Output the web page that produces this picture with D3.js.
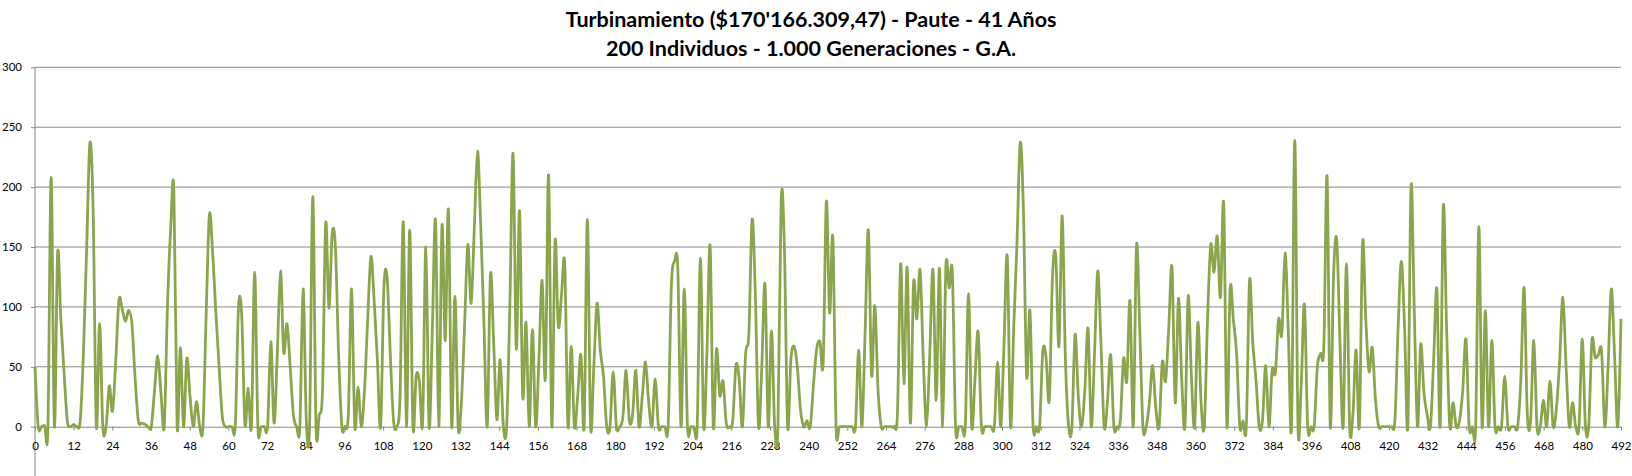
<!DOCTYPE html>
<html>
<head>
<meta charset="utf-8">
<script src="https://cdn.jsdelivr.net/npm/d3@7"></script>
<style>
  body { margin: 0; background: #fff; }
  svg { display: block; }
</style>
</head>
<body>
<div id="main-graph"></div>
<script>
// Title lines
const titleLines = [
    "Turbinamiento ($170'166.309,47) - Paute - 41 Años",
    "200 Individuos - 1.000 Generaciones - G.A."
];

// Monthly turbined flow, one row per year (41 years = 492 months)
const turbinamiento = [
    50,0,0,1,0,208,0,145,90,45,5,0,
    2,0,5,62,150,237,180,0,86,0,0,34,
    13,55,106,98,88,97,86,40,5,3,2,0,
    0,30,59,28,0,100,165,197,0,66,0,57,
    25,0,21,0,0,95,177,145,95,50,8,0,
    0,0,0,100,93,2,32,0,129,0,0,0,
    0,71,3,60,130,62,86,50,10,0,0,115,
    5,0,192,0,10,30,170,99,161,150,60,0,
    0,10,115,0,33,0,30,90,142,105,55,0,
    115,125,60,5,0,25,171,0,164,0,42,38,
    3,150,0,80,172,0,168,72,181,0,109,0,
    20,85,152,103,165,230,167,85,0,127,70,6,
    56,0,0,100,228,65,180,25,87,0,81,0,
    56,122,40,210,0,155,84,110,136,0,67,0,
    25,60,0,173,0,50,103,64,42,0,0,46,
    0,0,8,47,5,10,47,0,25,54,20,0,
    40,0,0,0,0,117,138,132,0,115,0,0,
    0,0,141,0,60,151,0,65,26,38,3,0,
    5,51,40,0,61,78,173,111,0,50,119,0,
    80,0,0,190,150,0,56,67,50,14,0,5,
    0,35,65,71,53,188,95,158,0,0,0,0,
    0,0,0,64,0,80,164,43,101,30,0,0,
    0,0,0,11,136,36,133,3,120,90,131,56,
    1,60,131,22,132,0,134,116,129,0,0,0,
    0,111,0,40,79,0,0,0,0,0,54,0,
    70,142,0,83,153,237,181,42,97,0,0,0,
    63,58,22,125,143,67,176,56,0,0,77,25,
    0,30,82,0,60,130,70,0,20,60,0,0,
    5,57,38,105,0,151,83,0,0,20,51,15,
    0,54,38,83,133,20,107,40,0,109,42,0,
    87,20,0,90,152,129,159,108,186,0,115,89,
    61,0,5,0,122,70,39,0,5,51,0,47,
    45,90,77,145,80,0,239,0,35,102,0,0,
    0,50,61,67,209,0,125,156,70,0,136,0,
    10,64,0,154,89,46,66,22,0,0,0,0,
    0,5,83,138,83,0,201,97,0,69,28,10,
    0,56,115,0,184,83,0,20,0,5,30,73,
    0,0,0,167,0,97,0,72,0,0,0,42,
    0,0,0,0,40,116,10,5,72,0,0,22,
    0,38,0,15,55,108,50,0,20,0,0,73,
    0,0,72,58,60,63,0,50,115,60,0,90
];

// Axis tick labels
const xTickLabels = [0,12,24,36,48,60,72,84,96,108,120,132,144,156,168,180,192,204,216,228,240,
    252,264,276,288,300,312,324,336,348,360,372,384,396,408,420,432,444,456,468,480,492];
const yTickLabels = [0,50,100,150,200,250,300];

// Dimensions of the page and plot area
const width = 1632, height = 476;
const plot = {left: 35, right: 1621, top: 67.3, bottom: 426.7};

const svg = d3.select("#main-graph")
    .append("svg")
        .attr("width", width)
        .attr("height", height)
        .style("background", "#fff");

// Scales
const x = d3.scaleLinear()
    .domain([0, turbinamiento.length - 1])
    .range([plot.left, plot.right]);
const xAxisScale = d3.scaleLinear()
    .domain([0, d3.max(xTickLabels)])
    .range([plot.left, plot.right]);
const y = d3.scaleLinear()
    .domain([0, d3.max(yTickLabels)])
    .range([plot.bottom, plot.top]);

// Horizontal gridlines
svg.append("g")
    .selectAll("line")
    .data(yTickLabels.filter(d => d > 0))
    .enter()
    .append("line")
    .attr("x1", plot.left)
    .attr("x2", plot.right)
    .attr("y1", d => y(d))
    .attr("y2", d => y(d))
    .attr("stroke", "#868686")
    .attr("stroke-width", 1);

// Y axis with small outer ticks
svg.append("g")
    .attr("transform", "translate(" + plot.left + ",0)")
    .call(d3.axisLeft(y).tickValues(yTickLabels).tickSizeInner(4).tickSizeOuter(0).tickPadding(9))
    .call(g => g.select(".domain").remove())
    .call(g => g.selectAll(".tick line").attr("stroke", "#868686"))
    .call(g => g.selectAll("text")
        .attr("fill", "#000")
        .style("font-family", "Lato, 'Liberation Sans', sans-serif")
        .style("font-size", "11.5px"));

// Vertical axis line runs down to the bottom edge
svg.append("line")
    .attr("x1", plot.left).attr("x2", plot.left)
    .attr("y1", plot.top).attr("y2", height)
    .attr("stroke", "#868686");

// X axis
svg.append("g")
    .attr("transform", "translate(0," + plot.bottom + ")")
    .call(d3.axisBottom(xAxisScale).tickValues(xTickLabels).tickSizeInner(4).tickSizeOuter(0).tickPadding(11))
    .call(g => g.select(".domain").attr("stroke", "#868686"))
    .call(g => g.selectAll(".tick line").attr("stroke", "#868686"))
    .call(g => g.selectAll("text")
        .attr("fill", "#000")
        .style("font-family", "Lato, 'Liberation Sans', sans-serif")
        .style("font-size", "11.5px"));

// Smoothed series line
const line = d3.line()
    .x((d, i) => x(i))
    .y(d => y(d))
    .curve(d3.curveCardinal.tension(0));

svg.append("path")
    .datum(turbinamiento)
    .attr("d", line)
    .attr("fill", "none")
    .attr("stroke", "#8AA64C")
    .attr("stroke-width", 2.8)
    .attr("stroke-linejoin", "round");

// Title
svg.append("g")
    .selectAll("text")
    .data(titleLines)
    .enter()
    .append("text")
    .attr("x", 811)
    .attr("y", (d, i) => 27 + i * 29)
    .attr("text-anchor", "middle")
    .style("font-family", "Lato, 'Liberation Sans', sans-serif")
    .style("font-weight", "bold")
    .style("font-size", "21.5px")
    .attr("fill", "#000")
    .text(d => d);
</script>
</body>
</html>
